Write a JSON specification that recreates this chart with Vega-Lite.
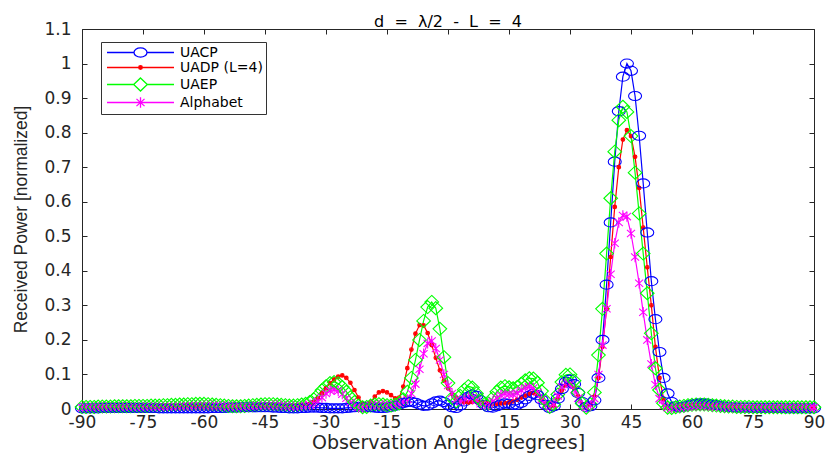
{
  "$schema": "https://vega.github.io/schema/vega-lite/v6.json",
  "autosize": "none",
  "width": 732,
  "height": 380,
  "padding": {"left": 82, "top": 29, "right": 12, "bottom": 52},
  "background": "white",
  "title": {"text": "d \u00a0=\u00a0 λ/2 \u00a0-\u00a0 L \u00a0=\u00a0 4", "font": "DejaVu Sans", "fontSize": 16, "fontWeight": "normal", "color": "#000000", "frame": "group", "baseline": "alphabetic", "offset": -23},
  "config": {
    "view": {"stroke": null},
    "axis": {"domainColor": "#262626", "tickColor": "#262626", "labelColor": "#262626", "titleColor": "#262626", "grid": false, "labelFont": "DejaVu Sans", "labelFontSize": 17, "titleFont": "DejaVu Sans", "titleFontWeight": "normal", "tickSize": -5, "domainWidth": 1, "tickWidth": 1, "labelFlush": false, "labelOverlap": false},
    "legend": {"orient": "none", "legendX": 19, "legendY": 13, "strokeColor": "#333333", "fillColor": "white", "padding": 3, "symbolSize": 169, "symbolStrokeWidth": 1.2, "symbolOffset": 29, "labelOffset": 32, "labelFont": "DejaVu Sans", "labelFontSize": 14, "labelColor": "#000000", "rowPadding": 0, "symbolOpacity": 1}
  },
  "data": {"values": [
    {"a":-90,"UACP":0.002,"UADP (L=4)":0.004,"UAEP":0.006,"Alphabet":0.004},
    {"a":-89,"UACP":0.002,"UADP (L=4)":0.004,"UAEP":0.006,"Alphabet":0.004},
    {"a":-88,"UACP":0.002,"UADP (L=4)":0.004,"UAEP":0.006,"Alphabet":0.004},
    {"a":-87,"UACP":0.002,"UADP (L=4)":0.004,"UAEP":0.006,"Alphabet":0.005},
    {"a":-86,"UACP":0.002,"UADP (L=4)":0.005,"UAEP":0.007,"Alphabet":0.005},
    {"a":-85,"UACP":0.003,"UADP (L=4)":0.005,"UAEP":0.007,"Alphabet":0.005},
    {"a":-84,"UACP":0.003,"UADP (L=4)":0.005,"UAEP":0.007,"Alphabet":0.005},
    {"a":-83,"UACP":0.003,"UADP (L=4)":0.005,"UAEP":0.007,"Alphabet":0.005},
    {"a":-82,"UACP":0.003,"UADP (L=4)":0.005,"UAEP":0.008,"Alphabet":0.005},
    {"a":-81,"UACP":0.003,"UADP (L=4)":0.005,"UAEP":0.008,"Alphabet":0.006},
    {"a":-80,"UACP":0.003,"UADP (L=4)":0.005,"UAEP":0.008,"Alphabet":0.006},
    {"a":-79,"UACP":0.003,"UADP (L=4)":0.005,"UAEP":0.008,"Alphabet":0.006},
    {"a":-78,"UACP":0.003,"UADP (L=4)":0.005,"UAEP":0.008,"Alphabet":0.006},
    {"a":-77,"UACP":0.003,"UADP (L=4)":0.006,"UAEP":0.009,"Alphabet":0.006},
    {"a":-76,"UACP":0.003,"UADP (L=4)":0.006,"UAEP":0.009,"Alphabet":0.006},
    {"a":-75,"UACP":0.003,"UADP (L=4)":0.006,"UAEP":0.009,"Alphabet":0.006},
    {"a":-74,"UACP":0.003,"UADP (L=4)":0.006,"UAEP":0.009,"Alphabet":0.007},
    {"a":-73,"UACP":0.003,"UADP (L=4)":0.006,"UAEP":0.010,"Alphabet":0.007},
    {"a":-72,"UACP":0.003,"UADP (L=4)":0.006,"UAEP":0.010,"Alphabet":0.007},
    {"a":-71,"UACP":0.002,"UADP (L=4)":0.006,"UAEP":0.010,"Alphabet":0.007},
    {"a":-70,"UACP":0.002,"UADP (L=4)":0.006,"UAEP":0.011,"Alphabet":0.007},
    {"a":-69,"UACP":0.002,"UADP (L=4)":0.007,"UAEP":0.011,"Alphabet":0.007},
    {"a":-68,"UACP":0.002,"UADP (L=4)":0.007,"UAEP":0.012,"Alphabet":0.008},
    {"a":-67,"UACP":0.002,"UADP (L=4)":0.007,"UAEP":0.012,"Alphabet":0.008},
    {"a":-66,"UACP":0.002,"UADP (L=4)":0.007,"UAEP":0.013,"Alphabet":0.008},
    {"a":-65,"UACP":0.002,"UADP (L=4)":0.008,"UAEP":0.013,"Alphabet":0.009},
    {"a":-64,"UACP":0.002,"UADP (L=4)":0.008,"UAEP":0.014,"Alphabet":0.009},
    {"a":-63,"UACP":0.002,"UADP (L=4)":0.008,"UAEP":0.014,"Alphabet":0.009},
    {"a":-62,"UACP":0.002,"UADP (L=4)":0.008,"UAEP":0.015,"Alphabet":0.010},
    {"a":-61,"UACP":0.002,"UADP (L=4)":0.008,"UAEP":0.015,"Alphabet":0.010},
    {"a":-60,"UACP":0.002,"UADP (L=4)":0.008,"UAEP":0.015,"Alphabet":0.010},
    {"a":-59,"UACP":0.002,"UADP (L=4)":0.008,"UAEP":0.014,"Alphabet":0.010},
    {"a":-58,"UACP":0.003,"UADP (L=4)":0.008,"UAEP":0.013,"Alphabet":0.010},
    {"a":-57,"UACP":0.003,"UADP (L=4)":0.007,"UAEP":0.012,"Alphabet":0.009},
    {"a":-56,"UACP":0.003,"UADP (L=4)":0.007,"UAEP":0.011,"Alphabet":0.009},
    {"a":-55,"UACP":0.003,"UADP (L=4)":0.006,"UAEP":0.010,"Alphabet":0.008},
    {"a":-54,"UACP":0.004,"UADP (L=4)":0.006,"UAEP":0.009,"Alphabet":0.007},
    {"a":-53,"UACP":0.004,"UADP (L=4)":0.006,"UAEP":0.008,"Alphabet":0.007},
    {"a":-52,"UACP":0.004,"UADP (L=4)":0.006,"UAEP":0.008,"Alphabet":0.006},
    {"a":-51,"UACP":0.005,"UADP (L=4)":0.006,"UAEP":0.008,"Alphabet":0.006},
    {"a":-50,"UACP":0.005,"UADP (L=4)":0.007,"UAEP":0.009,"Alphabet":0.007},
    {"a":-49,"UACP":0.005,"UADP (L=4)":0.007,"UAEP":0.010,"Alphabet":0.007},
    {"a":-48,"UACP":0.005,"UADP (L=4)":0.008,"UAEP":0.011,"Alphabet":0.008},
    {"a":-47,"UACP":0.005,"UADP (L=4)":0.008,"UAEP":0.012,"Alphabet":0.009},
    {"a":-46,"UACP":0.005,"UADP (L=4)":0.009,"UAEP":0.013,"Alphabet":0.010},
    {"a":-45,"UACP":0.005,"UADP (L=4)":0.009,"UAEP":0.014,"Alphabet":0.011},
    {"a":-44,"UACP":0.005,"UADP (L=4)":0.010,"UAEP":0.014,"Alphabet":0.011},
    {"a":-43,"UACP":0.004,"UADP (L=4)":0.010,"UAEP":0.014,"Alphabet":0.011},
    {"a":-42,"UACP":0.004,"UADP (L=4)":0.010,"UAEP":0.013,"Alphabet":0.011},
    {"a":-41,"UACP":0.003,"UADP (L=4)":0.010,"UAEP":0.012,"Alphabet":0.010},
    {"a":-40,"UACP":0.003,"UADP (L=4)":0.009,"UAEP":0.011,"Alphabet":0.009},
    {"a":-39,"UACP":0.002,"UADP (L=4)":0.009,"UAEP":0.010,"Alphabet":0.008},
    {"a":-38,"UACP":0.002,"UADP (L=4)":0.008,"UAEP":0.010,"Alphabet":0.008},
    {"a":-37,"UACP":0.002,"UADP (L=4)":0.009,"UAEP":0.011,"Alphabet":0.008},
    {"a":-36,"UACP":0.003,"UADP (L=4)":0.010,"UAEP":0.013,"Alphabet":0.009},
    {"a":-35,"UACP":0.003,"UADP (L=4)":0.012,"UAEP":0.015,"Alphabet":0.010},
    {"a":-34,"UACP":0.004,"UADP (L=4)":0.015,"UAEP":0.020,"Alphabet":0.012},
    {"a":-33,"UACP":0.004,"UADP (L=4)":0.020,"UAEP":0.028,"Alphabet":0.016},
    {"a":-32,"UACP":0.004,"UADP (L=4)":0.030,"UAEP":0.040,"Alphabet":0.022},
    {"a":-31,"UACP":0.003,"UADP (L=4)":0.045,"UAEP":0.054,"Alphabet":0.033},
    {"a":-30,"UACP":0.003,"UADP (L=4)":0.060,"UAEP":0.066,"Alphabet":0.045},
    {"a":-29,"UACP":0.002,"UADP (L=4)":0.075,"UAEP":0.075,"Alphabet":0.053},
    {"a":-28,"UACP":0.002,"UADP (L=4)":0.086,"UAEP":0.078,"Alphabet":0.056},
    {"a":-27,"UACP":0.002,"UADP (L=4)":0.094,"UAEP":0.074,"Alphabet":0.052},
    {"a":-26,"UACP":0.002,"UADP (L=4)":0.097,"UAEP":0.064,"Alphabet":0.043},
    {"a":-25,"UACP":0.003,"UADP (L=4)":0.090,"UAEP":0.050,"Alphabet":0.031},
    {"a":-24,"UACP":0.004,"UADP (L=4)":0.076,"UAEP":0.034,"Alphabet":0.019},
    {"a":-23,"UACP":0.005,"UADP (L=4)":0.055,"UAEP":0.020,"Alphabet":0.010},
    {"a":-22,"UACP":0.006,"UADP (L=4)":0.033,"UAEP":0.010,"Alphabet":0.005},
    {"a":-21,"UACP":0.006,"UADP (L=4)":0.016,"UAEP":0.005,"Alphabet":0.004},
    {"a":-20,"UACP":0.006,"UADP (L=4)":0.008,"UAEP":0.006,"Alphabet":0.006},
    {"a":-19,"UACP":0.005,"UADP (L=4)":0.020,"UAEP":0.010,"Alphabet":0.010},
    {"a":-18,"UACP":0.004,"UADP (L=4)":0.036,"UAEP":0.013,"Alphabet":0.012},
    {"a":-17,"UACP":0.003,"UADP (L=4)":0.048,"UAEP":0.014,"Alphabet":0.012},
    {"a":-16,"UACP":0.003,"UADP (L=4)":0.052,"UAEP":0.013,"Alphabet":0.011},
    {"a":-15,"UACP":0.004,"UADP (L=4)":0.048,"UAEP":0.011,"Alphabet":0.010},
    {"a":-14,"UACP":0.006,"UADP (L=4)":0.040,"UAEP":0.010,"Alphabet":0.010},
    {"a":-13,"UACP":0.009,"UADP (L=4)":0.031,"UAEP":0.012,"Alphabet":0.012},
    {"a":-12,"UACP":0.013,"UADP (L=4)":0.033,"UAEP":0.016,"Alphabet":0.016},
    {"a":-11,"UACP":0.017,"UADP (L=4)":0.065,"UAEP":0.028,"Alphabet":0.020},
    {"a":-10,"UACP":0.020,"UADP (L=4)":0.118,"UAEP":0.050,"Alphabet":0.028},
    {"a":-9,"UACP":0.021,"UADP (L=4)":0.172,"UAEP":0.090,"Alphabet":0.045},
    {"a":-8,"UACP":0.018,"UADP (L=4)":0.218,"UAEP":0.142,"Alphabet":0.072},
    {"a":-7,"UACP":0.013,"UADP (L=4)":0.243,"UAEP":0.200,"Alphabet":0.115},
    {"a":-6,"UACP":0.009,"UADP (L=4)":0.242,"UAEP":0.255,"Alphabet":0.160},
    {"a":-5,"UACP":0.010,"UADP (L=4)":0.220,"UAEP":0.295,"Alphabet":0.190},
    {"a":-4,"UACP":0.016,"UADP (L=4)":0.185,"UAEP":0.310,"Alphabet":0.197},
    {"a":-3,"UACP":0.022,"UADP (L=4)":0.148,"UAEP":0.292,"Alphabet":0.175},
    {"a":-2,"UACP":0.024,"UADP (L=4)":0.112,"UAEP":0.232,"Alphabet":0.142},
    {"a":-1,"UACP":0.020,"UADP (L=4)":0.082,"UAEP":0.150,"Alphabet":0.100},
    {"a":0,"UACP":0.012,"UADP (L=4)":0.060,"UAEP":0.075,"Alphabet":0.068},
    {"a":1,"UACP":0.005,"UADP (L=4)":0.044,"UAEP":0.032,"Alphabet":0.045},
    {"a":2,"UACP":0.003,"UADP (L=4)":0.032,"UAEP":0.022,"Alphabet":0.028},
    {"a":3,"UACP":0.010,"UADP (L=4)":0.024,"UAEP":0.038,"Alphabet":0.022},
    {"a":4,"UACP":0.022,"UADP (L=4)":0.020,"UAEP":0.056,"Alphabet":0.028},
    {"a":5,"UACP":0.035,"UADP (L=4)":0.019,"UAEP":0.066,"Alphabet":0.034},
    {"a":6,"UACP":0.042,"UADP (L=4)":0.020,"UAEP":0.062,"Alphabet":0.033},
    {"a":7,"UACP":0.038,"UADP (L=4)":0.021,"UAEP":0.045,"Alphabet":0.025},
    {"a":8,"UACP":0.025,"UADP (L=4)":0.020,"UAEP":0.026,"Alphabet":0.015},
    {"a":9,"UACP":0.012,"UADP (L=4)":0.018,"UAEP":0.014,"Alphabet":0.010},
    {"a":10,"UACP":0.005,"UADP (L=4)":0.016,"UAEP":0.016,"Alphabet":0.013},
    {"a":11,"UACP":0.004,"UADP (L=4)":0.015,"UAEP":0.032,"Alphabet":0.022},
    {"a":12,"UACP":0.008,"UADP (L=4)":0.015,"UAEP":0.050,"Alphabet":0.032},
    {"a":13,"UACP":0.013,"UADP (L=4)":0.016,"UAEP":0.062,"Alphabet":0.040},
    {"a":14,"UACP":0.016,"UADP (L=4)":0.017,"UAEP":0.066,"Alphabet":0.044},
    {"a":15,"UACP":0.015,"UADP (L=4)":0.019,"UAEP":0.063,"Alphabet":0.043},
    {"a":16,"UACP":0.012,"UADP (L=4)":0.022,"UAEP":0.060,"Alphabet":0.042},
    {"a":17,"UACP":0.012,"UADP (L=4)":0.027,"UAEP":0.064,"Alphabet":0.046},
    {"a":18,"UACP":0.018,"UADP (L=4)":0.033,"UAEP":0.073,"Alphabet":0.054},
    {"a":19,"UACP":0.028,"UADP (L=4)":0.039,"UAEP":0.083,"Alphabet":0.061},
    {"a":20,"UACP":0.038,"UADP (L=4)":0.044,"UAEP":0.089,"Alphabet":0.064},
    {"a":21,"UACP":0.044,"UADP (L=4)":0.047,"UAEP":0.088,"Alphabet":0.061},
    {"a":22,"UACP":0.040,"UADP (L=4)":0.042,"UAEP":0.076,"Alphabet":0.048},
    {"a":23,"UACP":0.027,"UADP (L=4)":0.028,"UAEP":0.052,"Alphabet":0.028},
    {"a":24,"UACP":0.012,"UADP (L=4)":0.012,"UAEP":0.024,"Alphabet":0.012},
    {"a":25,"UACP":0.003,"UADP (L=4)":0.003,"UAEP":0.006,"Alphabet":0.005},
    {"a":26,"UACP":0.008,"UADP (L=4)":0.010,"UAEP":0.014,"Alphabet":0.014},
    {"a":27,"UACP":0.030,"UADP (L=4)":0.030,"UAEP":0.042,"Alphabet":0.038},
    {"a":28,"UACP":0.058,"UADP (L=4)":0.054,"UAEP":0.078,"Alphabet":0.064},
    {"a":29,"UACP":0.079,"UADP (L=4)":0.069,"UAEP":0.099,"Alphabet":0.075},
    {"a":30,"UACP":0.085,"UADP (L=4)":0.072,"UAEP":0.100,"Alphabet":0.072},
    {"a":31,"UACP":0.072,"UADP (L=4)":0.060,"UAEP":0.082,"Alphabet":0.056},
    {"a":32,"UACP":0.046,"UADP (L=4)":0.036,"UAEP":0.048,"Alphabet":0.031},
    {"a":33,"UACP":0.020,"UADP (L=4)":0.013,"UAEP":0.016,"Alphabet":0.011},
    {"a":34,"UACP":0.006,"UADP (L=4)":0.003,"UAEP":0.004,"Alphabet":0.004},
    {"a":35,"UACP":0.008,"UADP (L=4)":0.012,"UAEP":0.014,"Alphabet":0.010},
    {"a":36,"UACP":0.025,"UADP (L=4)":0.036,"UAEP":0.048,"Alphabet":0.030},
    {"a":37,"UACP":0.090,"UADP (L=4)":0.090,"UAEP":0.156,"Alphabet":0.100},
    {"a":38,"UACP":0.200,"UADP (L=4)":0.180,"UAEP":0.290,"Alphabet":0.185},
    {"a":39,"UACP":0.360,"UADP (L=4)":0.290,"UAEP":0.450,"Alphabet":0.290},
    {"a":40,"UACP":0.540,"UADP (L=4)":0.440,"UAEP":0.610,"Alphabet":0.390},
    {"a":41,"UACP":0.716,"UADP (L=4)":0.585,"UAEP":0.745,"Alphabet":0.480},
    {"a":42,"UACP":0.862,"UADP (L=4)":0.700,"UAEP":0.836,"Alphabet":0.540},
    {"a":43,"UACP":0.962,"UADP (L=4)":0.780,"UAEP":0.875,"Alphabet":0.560},
    {"a":44,"UACP":1.000,"UADP (L=4)":0.807,"UAEP":0.860,"Alphabet":0.557},
    {"a":45,"UACP":0.979,"UADP (L=4)":0.790,"UAEP":0.790,"Alphabet":0.508},
    {"a":46,"UACP":0.906,"UADP (L=4)":0.730,"UAEP":0.684,"Alphabet":0.440},
    {"a":47,"UACP":0.791,"UADP (L=4)":0.640,"UAEP":0.566,"Alphabet":0.364},
    {"a":48,"UACP":0.653,"UADP (L=4)":0.525,"UAEP":0.450,"Alphabet":0.280},
    {"a":49,"UACP":0.511,"UADP (L=4)":0.410,"UAEP":0.335,"Alphabet":0.200},
    {"a":50,"UACP":0.370,"UADP (L=4)":0.300,"UAEP":0.219,"Alphabet":0.130},
    {"a":51,"UACP":0.260,"UADP (L=4)":0.180,"UAEP":0.118,"Alphabet":0.070},
    {"a":52,"UACP":0.165,"UADP (L=4)":0.090,"UAEP":0.055,"Alphabet":0.030},
    {"a":53,"UACP":0.090,"UADP (L=4)":0.030,"UAEP":0.017,"Alphabet":0.010},
    {"a":54,"UACP":0.045,"UADP (L=4)":0.008,"UAEP":0.004,"Alphabet":0.004},
    {"a":55,"UACP":0.020,"UADP (L=4)":0.003,"UAEP":0.003,"Alphabet":0.003},
    {"a":56,"UACP":0.008,"UADP (L=4)":0.004,"UAEP":0.005,"Alphabet":0.004},
    {"a":57,"UACP":0.005,"UADP (L=4)":0.006,"UAEP":0.007,"Alphabet":0.005},
    {"a":58,"UACP":0.007,"UADP (L=4)":0.008,"UAEP":0.009,"Alphabet":0.006},
    {"a":59,"UACP":0.010,"UADP (L=4)":0.010,"UAEP":0.011,"Alphabet":0.008},
    {"a":60,"UACP":0.013,"UADP (L=4)":0.011,"UAEP":0.012,"Alphabet":0.009},
    {"a":61,"UACP":0.015,"UADP (L=4)":0.012,"UAEP":0.013,"Alphabet":0.010},
    {"a":62,"UACP":0.016,"UADP (L=4)":0.012,"UAEP":0.013,"Alphabet":0.010},
    {"a":63,"UACP":0.016,"UADP (L=4)":0.012,"UAEP":0.013,"Alphabet":0.010},
    {"a":64,"UACP":0.015,"UADP (L=4)":0.011,"UAEP":0.012,"Alphabet":0.009},
    {"a":65,"UACP":0.013,"UADP (L=4)":0.010,"UAEP":0.011,"Alphabet":0.008},
    {"a":66,"UACP":0.011,"UADP (L=4)":0.009,"UAEP":0.010,"Alphabet":0.008},
    {"a":67,"UACP":0.009,"UADP (L=4)":0.008,"UAEP":0.009,"Alphabet":0.007},
    {"a":68,"UACP":0.007,"UADP (L=4)":0.007,"UAEP":0.008,"Alphabet":0.006},
    {"a":69,"UACP":0.006,"UADP (L=4)":0.006,"UAEP":0.007,"Alphabet":0.006},
    {"a":70,"UACP":0.005,"UADP (L=4)":0.006,"UAEP":0.007,"Alphabet":0.005},
    {"a":71,"UACP":0.004,"UADP (L=4)":0.005,"UAEP":0.006,"Alphabet":0.005},
    {"a":72,"UACP":0.004,"UADP (L=4)":0.005,"UAEP":0.006,"Alphabet":0.005},
    {"a":73,"UACP":0.004,"UADP (L=4)":0.005,"UAEP":0.006,"Alphabet":0.004},
    {"a":74,"UACP":0.004,"UADP (L=4)":0.004,"UAEP":0.006,"Alphabet":0.004},
    {"a":75,"UACP":0.003,"UADP (L=4)":0.004,"UAEP":0.005,"Alphabet":0.004},
    {"a":76,"UACP":0.003,"UADP (L=4)":0.004,"UAEP":0.005,"Alphabet":0.004},
    {"a":77,"UACP":0.003,"UADP (L=4)":0.004,"UAEP":0.005,"Alphabet":0.004},
    {"a":78,"UACP":0.003,"UADP (L=4)":0.004,"UAEP":0.005,"Alphabet":0.004},
    {"a":79,"UACP":0.003,"UADP (L=4)":0.004,"UAEP":0.005,"Alphabet":0.004},
    {"a":80,"UACP":0.003,"UADP (L=4)":0.004,"UAEP":0.005,"Alphabet":0.004},
    {"a":81,"UACP":0.003,"UADP (L=4)":0.004,"UAEP":0.005,"Alphabet":0.004},
    {"a":82,"UACP":0.003,"UADP (L=4)":0.004,"UAEP":0.005,"Alphabet":0.004},
    {"a":83,"UACP":0.002,"UADP (L=4)":0.004,"UAEP":0.005,"Alphabet":0.004},
    {"a":84,"UACP":0.002,"UADP (L=4)":0.004,"UAEP":0.005,"Alphabet":0.004},
    {"a":85,"UACP":0.002,"UADP (L=4)":0.004,"UAEP":0.005,"Alphabet":0.004},
    {"a":86,"UACP":0.002,"UADP (L=4)":0.004,"UAEP":0.005,"Alphabet":0.004},
    {"a":87,"UACP":0.002,"UADP (L=4)":0.004,"UAEP":0.005,"Alphabet":0.004},
    {"a":88,"UACP":0.002,"UADP (L=4)":0.004,"UAEP":0.005,"Alphabet":0.004},
    {"a":89,"UACP":0.002,"UADP (L=4)":0.004,"UAEP":0.005,"Alphabet":0.004},
    {"a":90,"UACP":0.002,"UADP (L=4)":0.004,"UAEP":0.005,"Alphabet":0.004}
  ]},
  "transform": [{"fold": ["UACP", "UADP (L=4)", "UAEP", "Alphabet"], "as": ["s", "p"]}],
  "layer": [
    {
      "mark": {"type": "line", "strokeWidth": 1.2},
      "encoding": {
        "x": {"field": "a", "type": "quantitative", "scale": {"domain": [-90, 90], "nice": false, "zero": false}, "axis": {"orient": "bottom", "values": [-90, -75, -60, -45, -30, -15, 0, 15, 30, 45, 60, 75, 90], "labelExpr": "datum.value + ''", "labelPadding": 10, "title": "Observation Angle [degrees]", "titleFontSize": 19, "titlePadding": 3}},
        "y": {"field": "p", "type": "quantitative", "scale": {"domain": [0, 1.1], "nice": false}, "axis": {"orient": "left", "values": [0, 0.1, 0.2, 0.3, 0.4, 0.5, 0.6, 0.7, 0.8, 0.9, 1, 1.1], "labelExpr": "datum.value + ''", "labelPadding": 16, "title": "Received Power [normalized]", "titleFont": "Liberation Sans", "titleFontSize": 17.5, "titlePadding": 13}},
        "color": {
          "field": "s", "type": "nominal",
          "scale": {"domain": ["UACP", "UADP (L=4)", "UAEP", "Alphabet"], "range": ["#0000ff", "#ff0000", "#00ff00", "#ff00ff"]},
          "legend": {
            "title": null,
            "encode": {
              "symbols": {
                "update": {
                  "shape": {"signal": "datum.value === 'UACP' ? 'M-5.15,0L-1,0M1,0L5.15,0M-1,0A1,0.7,0,1,1,1,0A1,0.7,0,1,1,-1,0Z' : datum.value === 'UADP (L=4)' ? 'M-5.15,0L5.15,0M-0.28,0A0.28,0.28,0,1,1,0.28,0A0.28,0.28,0,1,1,-0.28,0ZM-0.1,0A0.1,0.1,0,1,1,0.1,0A0.1,0.1,0,1,1,-0.1,0Z' : datum.value === 'UAEP' ? 'M-5.15,0L-1.05,0M1.05,0L5.15,0M0,-1L1.05,0L0,1L-1.05,0Z' : 'M-5.15,0L5.15,0M0,-0.8L0,0.8M-0.62,-0.56L0.62,0.56M-0.62,0.56L0.62,-0.56'"},
                  "fill": {"value": "transparent"},
                  "opacity": {"value": 1},
                  "strokeWidth": {"value": 1.3}
                }
              }
            }
          }
        }
      }
    },
    {
      "mark": {"type": "point", "filled": false, "opacity": 1, "strokeWidth": 1.1, "size": 169},
      "encoding": {
        "x": {"field": "a", "type": "quantitative", "axis": {"orient": "top", "values": [-90, -75, -60, -45, -30, -15, 0, 15, 30, 45, 60, 75, 90], "labels": false, "title": null}},
        "y": {"field": "p", "type": "quantitative", "axis": {"orient": "right", "values": [0, 0.1, 0.2, 0.3, 0.4, 0.5, 0.6, 0.7, 0.8, 0.9, 1, 1.1], "labels": false, "title": null}},
        "stroke": {"field": "s", "type": "nominal", "legend": null, "scale": {"domain": ["Alphabet", "UAEP", "UADP (L=4)", "UACP"], "range": ["#ff00ff", "#00ff00", "#ff0000", "#0000ff"]}},
        "shape": {"field": "s", "type": "nominal", "legend": null, "scale": {"domain": ["Alphabet", "UAEP", "UADP (L=4)", "UACP"], "range": ["M0,-0.8L0,0.8M-0.62,-0.56L0.62,0.56M-0.62,0.56L0.62,-0.56", "M0,-1L1.05,0L0,1L-1.05,0Z", "M-0.28,0A0.28,0.28,0,1,1,0.28,0A0.28,0.28,0,1,1,-0.28,0ZM-0.1,0A0.1,0.1,0,1,1,0.1,0A0.1,0.1,0,1,1,-0.1,0Z", "M-1,0A1,0.7,0,1,1,1,0A1,0.7,0,1,1,-1,0Z"]}}
      }
    }
  ],
  "resolve": {"axis": {"x": "independent", "y": "independent"}}
}
